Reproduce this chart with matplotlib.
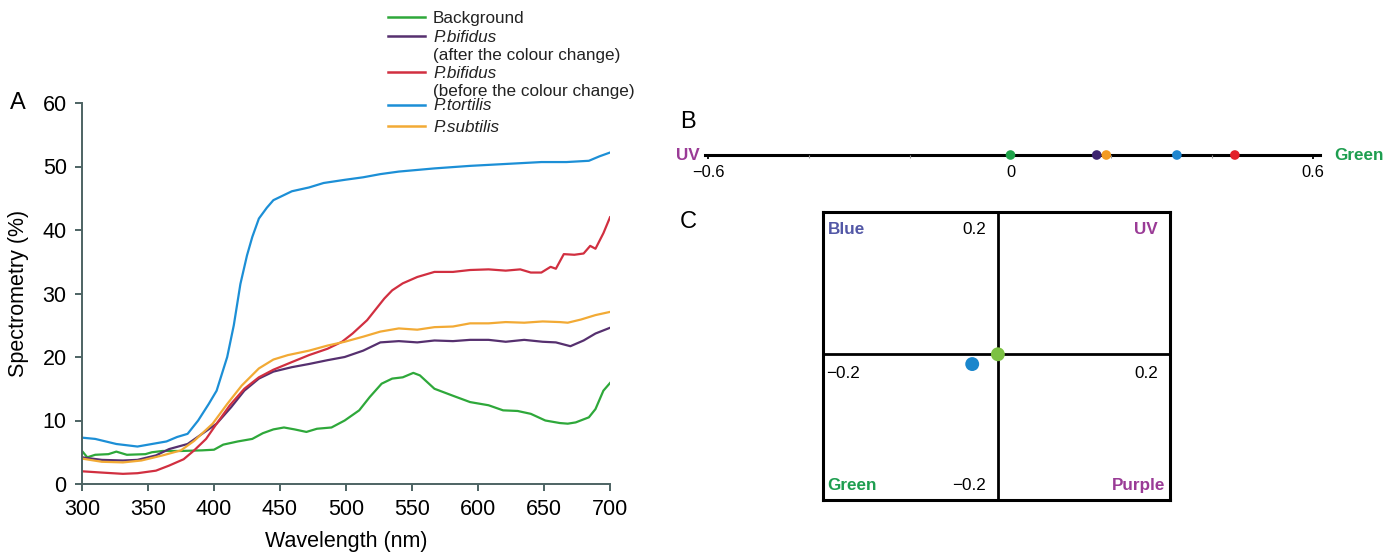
import matplotlib
matplotlib.use("Agg")
import matplotlib.pyplot as plt
from matplotlib.lines import Line2D

plt.rcParams['font.family'] = ['Liberation Sans', 'DejaVu Sans']

# ==== panel A: reflectance spectra ====
wl_background = [300, 304, 310, 320, 326, 334, 348, 353, 361, 375, 391, 400, 407, 418, 429,
                 437, 445, 453, 461, 470, 478, 489, 499, 510, 518, 527, 535, 543, 551, 556,
                 567, 581, 594, 608, 619, 630, 640, 651, 662, 668, 674, 684, 689, 695, 700]
val_background = [5.2, 4.2, 4.6, 4.7, 5.1, 4.6, 4.7, 5.0, 5.2, 5.2, 5.3, 5.4, 6.2, 6.7, 7.1,
                  8.0, 8.6, 8.9, 8.6, 8.2, 8.7, 8.9, 10.0, 11.6, 13.7, 15.8, 16.6, 16.8, 17.5, 17.1,
                  15.0, 13.9, 12.9, 12.4, 11.6, 11.5, 11.05, 10.0, 9.6, 9.5, 9.7, 10.5, 11.8, 14.7, 15.9]

wl_bif_after = [300, 315, 331, 342, 356, 366, 380, 391, 402, 413, 423, 434, 445, 459, 472,
                486, 499, 513, 526, 540, 554, 567, 581, 594, 608, 621, 635, 649, 659, 670,
                680, 689, 700]
val_bif_after = [4.2, 3.8, 3.7, 3.8, 4.5, 5.5, 6.3, 7.9, 9.5, 12.1, 14.7, 16.6, 17.7, 18.4, 18.9,
                 19.5, 20.0, 21.0, 22.3, 22.5, 22.3, 22.6, 22.5, 22.7, 22.7, 22.4, 22.7, 22.4, 22.3, 21.7,
                 22.6, 23.7, 24.6]

wl_bif_before = [300, 315, 331, 342, 356, 366, 377, 385, 394, 402, 412, 423, 434, 445, 459,
                 472, 486, 497, 505, 516, 529, 535, 543, 554, 567, 581, 594, 608, 621, 632,
                 640, 648, 655, 659, 665, 673, 680, 685, 689, 695, 700]
val_bif_before = [2.0, 1.8, 1.6, 1.7, 2.1, 2.9, 3.9, 5.3, 7.1, 9.5, 12.4, 15.0, 16.8, 18.0, 19.2,
                  20.3, 21.3, 22.4, 23.7, 25.8, 29.2, 30.5, 31.6, 32.6, 33.4, 33.4, 33.7, 33.8, 33.6, 33.8,
                  33.3, 33.3, 34.2, 33.9, 36.2, 36.1, 36.3, 37.5, 37.05, 39.5, 42.0]

wl_tortilis = [300, 310, 326, 342, 353, 364, 372, 380, 388, 396, 402, 410, 415, 420, 425,
               429, 434, 440, 445, 459, 472, 483, 499, 513, 526, 540, 567, 594, 621, 648,
               667, 684, 692, 700]
val_tortilis = [7.3, 7.1, 6.3, 5.9, 6.3, 6.7, 7.4, 7.9, 10.0, 12.6, 14.7, 20.0, 25.0, 31.5, 36.0,
                38.9, 41.8, 43.5, 44.7, 46.1, 46.7, 47.4, 47.9, 48.3, 48.8, 49.2, 49.7, 50.1, 50.4, 50.7,
                50.7, 50.9, 51.6, 52.2]

wl_subtilis = [300, 315, 331, 345, 361, 375, 385, 399, 410, 421, 434, 445, 456, 472, 486,
               499, 513, 526, 540, 554, 567, 581, 594, 608, 621, 635, 649, 662, 668, 678,
               689, 700]
val_subtilis = [4.0, 3.5, 3.4, 3.7, 4.5, 5.3, 6.8, 9.5, 12.6, 15.5, 18.2, 19.6, 20.3, 21.0, 21.8,
                22.4, 23.2, 24.0, 24.5, 24.3, 24.7, 24.8, 25.3, 25.3, 25.5, 25.4, 25.6, 25.5, 25.4, 25.9,
                26.6, 27.1]

# ==== panel B: UV-green axis ====
b_values = [0.0, 0.171, 0.19, 0.33, 0.445]
b_colors = ["#1fa34a", "#3d2470", "#f39a22", "#1f86cf", "#e3202a"]
b_major = [-0.6, 0.0, 0.6]
b_major_labels = ["\u22120.6", "0", "0.6"]
b_minor = [-0.4, -0.2, 0.2, 0.4]

# ==== panel C: colour space ====
c_x = [-0.037, 0.0]
c_y = [-0.017, 0.0]
c_colors = ["#1a86cc", "#7cc143"]

GREEN = "#2ea83a"
PURPLE = "#56306f"
RED = "#d12f40"
BLUE = "#1c8fd6"
ORANGE = "#f2aa35"
SPINE = "#4d6363"

fig = plt.figure(figsize=(13.94, 5.56), dpi=100)
W, H = 1394.0, 556.0

def fx(px):
    return px / W

def fy(py):
    return 1 - py / H

# ---- A ----
axA = fig.add_axes([fx(82), fy(484), fx(610) - fx(82), fy(103) - fy(484)])
axA.plot(wl_background, val_background, color=GREEN, lw=1.6)
axA.plot(wl_bif_after, val_bif_after, color=PURPLE, lw=1.6)
axA.plot(wl_bif_before, val_bif_before, color=RED, lw=1.6)
axA.plot(wl_tortilis, val_tortilis, color=BLUE, lw=1.6)
axA.plot(wl_subtilis, val_subtilis, color=ORANGE, lw=1.6)
axA.set_xlim(300, 700)
axA.set_ylim(0, 60)
axA.set_xticks(range(300, 701, 50))
axA.set_yticks(range(0, 61, 10))
for s in ("top", "right"):
    axA.spines[s].set_visible(False)
for s in ("left", "bottom"):
    axA.spines[s].set_color(SPINE)
    axA.spines[s].set_linewidth(1.4)
axA.tick_params(axis="both", labelsize=15.5, length=5, width=1.4, color=SPINE, pad=6)
axA.set_xlabel("Wavelength (nm)", fontsize=15.5, labelpad=8)
axA.set_ylabel("Spectrometry (%)", fontsize=15.5, labelpad=10)
fig.text(fx(18), fy(103), "A", fontsize=17, ha="center", va="center")

# legend drawn by hand (mixed italic / upright text)
leg_items = [
    (GREEN, 18, [("Background", "normal")]),
    (PURPLE, 37, [("P.bifidus", "italic"), ("(after the colour change)", "normal")]),
    (RED, 73, [("P.bifidus", "italic"), ("(before the colour change)", "normal")]),
    (BLUE, 106, [("P.tortilis", "italic")]),
    (ORANGE, 127, [("P.subtilis", "italic")]),
]
for col, ypx, lines in leg_items:
    fig.add_artist(Line2D([fx(388), fx(425)], [fy(ypx - 1), fy(ypx - 1)], color=col, lw=1.8,
                          transform=fig.transFigure))
    for k, (txt, style) in enumerate(lines):
        fig.text(fx(433), fy(ypx + k * 18.5), txt, fontsize=12.3, style=style,
                 ha="left", va="center", color="#222222")

# ---- B ----
axB = fig.add_axes([fx(705), fy(175), fx(1320) - fx(705), fy(135) - fy(175)])
lo = -0.6 - 3 / 504.2
hi = 0.6 + 7 / 504.2
axB.set_xlim(lo, hi)
axB.set_ylim(-1, 1)
for s in ("top", "right", "left"):
    axB.spines[s].set_visible(False)
axB.spines["bottom"].set_position(("data", 0))
axB.spines["bottom"].set_linewidth(2.2)
axB.spines["bottom"].set_zorder(1)
axB.set_yticks([])
axB.set_xticks(b_major)
axB.set_xticklabels(b_major_labels)
axB.set_xticks(b_minor, minor=True)
axB.tick_params(axis="x", which="major", labelsize=11.8, length=3, width=1.3, pad=4)
axB.tick_params(axis="x", which="minor", length=2, width=0.8, color="#999999")
axB.scatter(b_values, [0] * len(b_values), s=48, c=b_colors, zorder=3, edgecolors="none",
            clip_on=False)
axB.patch.set_visible(False)
fig.text(fx(700), fy(155), "UV", fontsize=12.3, fontweight="bold", color="#9a3b96",
         ha="right", va="center")
fig.text(fx(1334), fy(155), "Green", fontsize=12.3, fontweight="bold", color="#1e9e50",
         ha="left", va="center")
fig.text(fx(688), fy(122), "B", fontsize=17, ha="center", va="center")

# ---- C ----
axC = fig.add_axes([fx(823), fy(500), fx(1170) - fx(823), fy(212) - fy(500)])
axC.set_xlim(-0.252, 0.248)
axC.set_ylim(-0.253, 0.247)
axC.set_xticks([])
axC.set_yticks([])
for s in axC.spines.values():
    s.set_linewidth(2.2)
axC.axhline(0, color="black", lw=2.0, zorder=1)
axC.axvline(0, color="black", lw=2.0, zorder=1)
axC.scatter(c_x, c_y, s=100, c=c_colors, zorder=3, edgecolors="none")
fs = 12.3
axC.text(0.015, 0.965, "Blue", transform=axC.transAxes, fontsize=fs, fontweight="bold",
         color="#5257a6", ha="left", va="top")
axC.text(0.47, 0.965, "0.2", transform=axC.transAxes, fontsize=fs, ha="right", va="top")
axC.text(0.965, 0.965, "UV", transform=axC.transAxes, fontsize=fs, fontweight="bold",
         color="#9a3b96", ha="right", va="top")
axC.text(0.01, 0.465, "\u22120.2", transform=axC.transAxes, fontsize=fs, ha="left", va="top")
axC.text(0.965, 0.465, "0.2", transform=axC.transAxes, fontsize=fs, ha="right", va="top")
axC.text(0.012, 0.025, "Green", transform=axC.transAxes, fontsize=fs, fontweight="bold",
         color="#1e9e50", ha="left", va="bottom")
axC.text(0.47, 0.025, "\u22120.2", transform=axC.transAxes, fontsize=fs, ha="right", va="bottom")
axC.text(0.985, 0.025, "Purple", transform=axC.transAxes, fontsize=fs, fontweight="bold",
         color="#9a3b96", ha="right", va="bottom")
fig.text(fx(688), fy(222), "C", fontsize=17, ha="center", va="center")

fig.savefig("out.png", dpi=100)
